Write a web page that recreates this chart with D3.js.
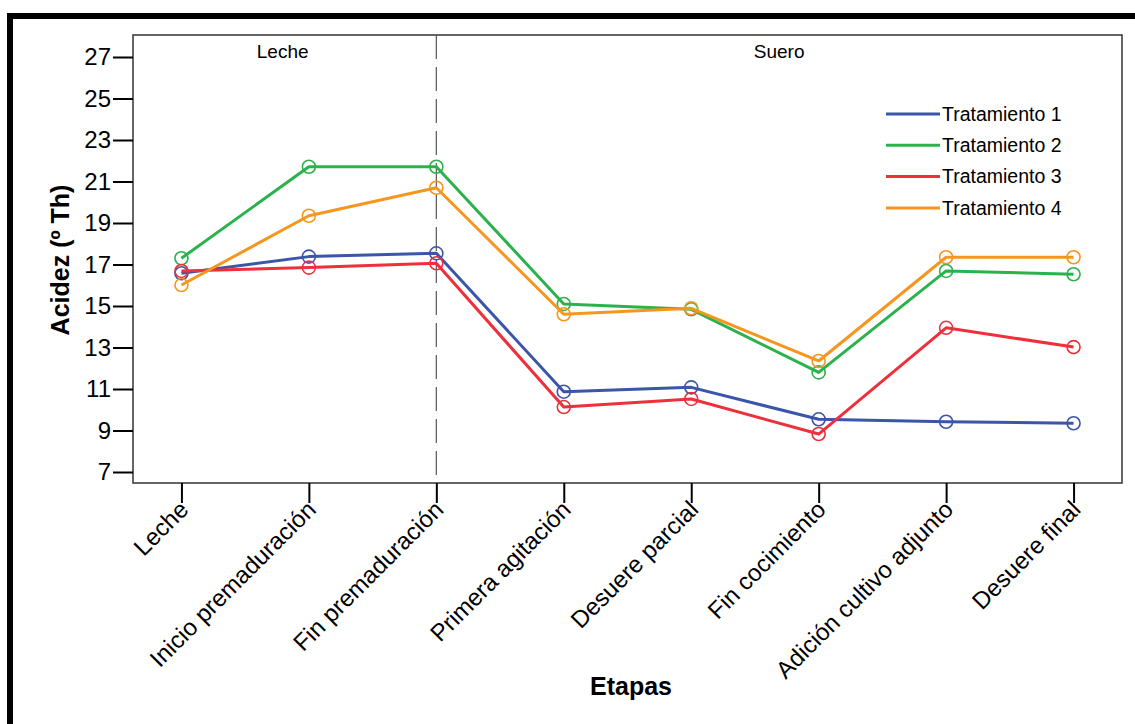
<!DOCTYPE html>
<html>
<head>
<meta charset="utf-8">
<script src="https://cdn.jsdelivr.net/npm/d3@7"></script>
<style>
  body { margin: 0; background: #fff; }
  svg { font-family: Arial, "Liberation Sans", sans-serif; }
</style>
</head>
<body>
<div id="chart"></div>
<script>
// stages on the x axis
let etapas = ["Leche", "Inicio premaduración", "Fin premaduración", "Primera agitación",
  "Desuere parcial", "Fin cocimiento", "Adición cultivo adjunto", "Desuere final"]

// acidity per treatment (º Th)
let trat1 = [16.58, 17.38, 17.54, 10.87, 11.08, 9.54, 9.42, 9.35]
let trat2 = [17.30, 21.71, 21.71, 15.10, 14.84, 11.80, 16.69, 16.53]
let trat3 = [16.69, 16.85, 17.06, 10.13, 10.52, 8.83, 13.95, 13.02]
let trat4 = [16.01, 19.35, 20.70, 14.60, 14.89, 12.35, 17.35, 17.35]

let serieNames = ["Tratamiento 1", "Tratamiento 2", "Tratamiento 3", "Tratamiento 4"]
let yTicks = [7, 9, 11, 13, 15, 17, 19, 21, 23, 25, 27]
let phases = ["Leche", "Suero"]

let colors = ["#3b55a8", "#2bb24c", "#ee2f3c", "#f7961f"]

let width = 1135, height = 724
let plot = { left: 133, top: 35, right: 1122, bottom: 483 }
let font = "Arial, 'Liberation Sans', sans-serif"

let svg = d3.select("#chart").append("svg")
  .attr("width", width)
  .attr("height", height)

// page frame (thick black top and left bars)
svg.append("rect").attr("x", 7).attr("y", 13).attr("width", width - 7).attr("height", 6).attr("fill", "#000")
svg.append("rect").attr("x", 7).attr("y", 13).attr("width", 6).attr("height", height - 13).attr("fill", "#000")

let x = d3.scalePoint()
  .domain(etapas)
  .range([plot.left, plot.right])
  .padding(0.38)

let y = d3.scaleLinear()
  .domain([7 - 11 / 20.75, 27 + 22 / 20.75])
  .range([plot.bottom, plot.top])

// plot box
svg.append("rect")
  .attr("x", plot.left).attr("y", plot.top)
  .attr("width", plot.right - plot.left).attr("height", plot.bottom - plot.top)
  .attr("fill", "none").attr("stroke", "#333").attr("stroke-width", 1.5)

// y axis
let yAxis = svg.append("g")
  .attr("transform", "translate(" + plot.left + ",0)")
  .call(d3.axisLeft(y).tickValues(yTicks).tickSize(20).tickPadding(2))
yAxis.select(".domain").remove()
yAxis.selectAll(".tick line").attr("stroke", "#000").attr("stroke-width", 2)
yAxis.selectAll(".tick text")
  .style("font-size", "24px")
  .style("font-family", font)
  .attr("fill", "#000")

// x axis
let xAxis = svg.append("g")
  .attr("transform", "translate(0," + plot.bottom + ")")
  .call(d3.axisBottom(x).tickSize(20).tickPadding(0))
xAxis.select(".domain").remove()
xAxis.selectAll(".tick line").attr("stroke", "#000").attr("stroke-width", 2)
xAxis.selectAll(".tick text")
  .style("font-size", "24px")
  .style("font-family", font)
  .attr("fill", "#000")
  .attr("text-anchor", "end")
  .attr("y", 0)
  .attr("dy", "0")
  .attr("transform", "translate(8,28) rotate(-45)")

// separator between milk and whey
let sep = x(etapas[2])
svg.append("line")
  .attr("x1", sep).attr("x2", sep)
  .attr("y1", plot.top).attr("y2", plot.bottom)
  .attr("stroke", "#555").attr("stroke-width", 1.2)
  .attr("stroke-dasharray", "24,8")

svg.selectAll(".phase")
  .data(phases)
  .enter().append("text")
  .attr("class", "phase")
  .attr("x", (d, i) => i == 0 ? (plot.left + sep) / 2 - 2 : (sep + plot.right) / 2 + 0)
  .attr("y", 58)
  .attr("text-anchor", "middle")
  .style("font-size", "19px")
  .text(d => d)

// series
let series = [trat1, trat2, trat3, trat4]
let line = d3.line()
  .x((d, i) => x(etapas[i]))
  .y(d => y(d))

series.forEach(function(vals, k) {
  svg.append("path")
    .datum(vals)
    .attr("fill", "none")
    .attr("stroke", colors[k])
    .attr("stroke-width", 3)
    .attr("stroke-linejoin", "round")
    .attr("d", line)

  svg.selectAll(".pt" + k)
    .data(vals)
    .enter().append("circle")
    .attr("class", "pt" + k)
    .attr("cx", (d, i) => x(etapas[i]))
    .attr("cy", d => y(d))
    .attr("r", 6.5)
    .attr("fill", "none")
    .attr("stroke", colors[k])
    .attr("stroke-width", 1.6)
})

// legend
let legend = svg.append("g").attr("transform", "translate(886,114)")
serieNames.forEach(function(name, k) {
  let row = legend.append("g").attr("transform", "translate(0," + (k * 31.3) + ")")
  row.append("line")
    .attr("x1", 0).attr("x2", 54)
    .attr("stroke", colors[k]).attr("stroke-width", 3)
  row.append("text")
    .attr("x", 56).attr("y", 0)
    .attr("dy", "0.35em")
    .style("font-size", "19.5px")
    .text(name)
})

// axis titles
svg.append("text")
  .attr("transform", "translate(69,260) rotate(-90)")
  .attr("text-anchor", "middle")
  .style("font-size", "25px")
  .style("font-weight", "bold")
  .text("Acidez (º Th)")

svg.append("text")
  .attr("x", 631).attr("y", 695)
  .attr("text-anchor", "middle")
  .style("font-size", "25px")
  .style("font-weight", "bold")
  .text("Etapas")
</script>
</body>
</html>
